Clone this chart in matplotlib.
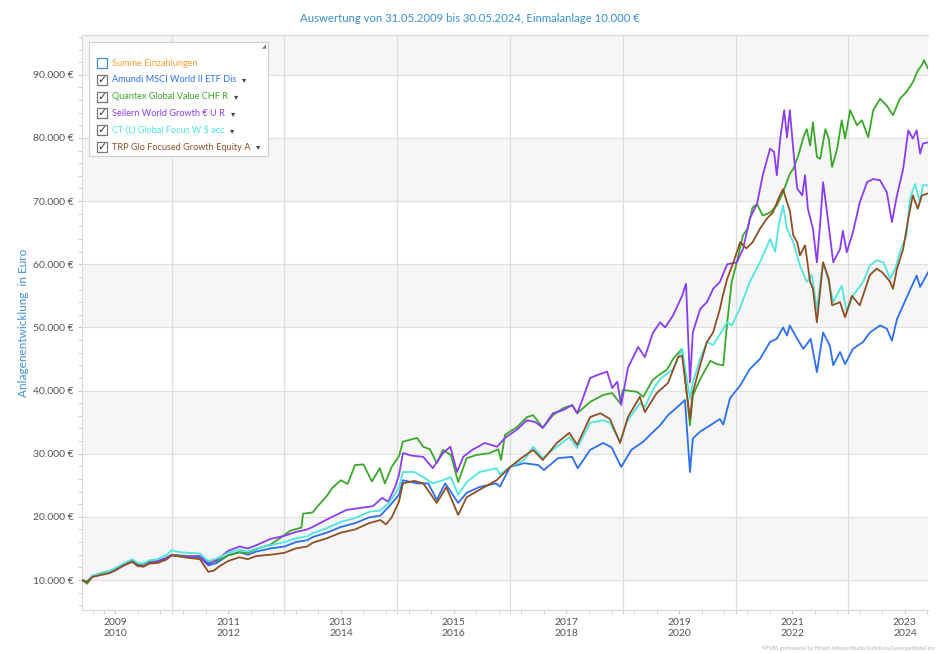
import numpy as np
import matplotlib
matplotlib.use('Agg')
import matplotlib.pyplot as plt
from matplotlib.patches import Rectangle
from matplotlib.ticker import FixedLocator, MultipleLocator, FuncFormatter

plt.rcParams['font.family'] = ['Lato', 'DejaVu Sans']

## values (time as decimal year, value in EUR)
amundi_t = [2009.41, 2009.5, 2009.6, 2009.75, 2009.9, 2010.0, 2010.15, 2010.3, 2010.4, 2010.5, 2010.6, 2010.75, 2010.9,
            2011.0, 2011.15, 2011.3, 2011.5, 2011.65, 2011.8, 2012.0, 2012.2, 2012.35, 2012.5, 2012.75, 2013.0, 2013.2,
            2013.4, 2013.5, 2013.75, 2014.0, 2014.25, 2014.5, 2014.7, 2014.85, 2015.03, 2015.1, 2015.35, 2015.55, 2015.7,
            2015.85, 2016.08, 2016.23, 2016.45, 2016.75, 2016.82, 2017.0, 2017.25, 2017.5, 2017.6, 2017.85, 2018.1, 2018.2,
            2018.42, 2018.65, 2018.8, 2018.97, 2019.15, 2019.36, 2019.53, 2019.66, 2019.8, 2019.98, 2020.1, 2020.19,
            2020.24, 2020.37, 2020.55, 2020.72, 2020.78, 2020.9, 2021.08, 2021.25, 2021.43, 2021.61, 2021.73, 2021.84,
            2021.91, 2021.96, 2022.09, 2022.2, 2022.33, 2022.44, 2022.55, 2022.67, 2022.73, 2022.85, 2022.94, 2023.08,
            2023.26, 2023.38, 2023.56, 2023.68, 2023.77, 2023.86, 2023.97, 2024.1, 2024.21, 2024.27, 2024.41]
amundi_v = [10000, 9700, 10700, 11000, 11300, 11700, 12400, 13000, 12300, 12300, 12800, 12900, 13400,
            14000, 13800, 13700, 13600, 12300, 12700, 13900, 14400, 14000, 14500, 15000, 15300, 16000,
            16300, 16800, 17500, 18400, 19000, 19900, 20200, 21600, 23500, 25800, 25300, 25300, 22700,
            25300, 22200, 23800, 24700, 25300, 24800, 27900, 28500, 28200, 27400, 29300, 29500, 27700,
            30600, 31700, 31000, 27900, 30600, 31900, 33400, 34500, 36100, 37500, 38500, 27100,
            32400, 33500, 34500, 35500, 34600, 38800, 40800, 43400, 45000, 47700, 48200, 50000,
            48700, 50300, 48200, 46600, 48200, 42900, 49200, 47100, 44000, 46100, 44200, 46600,
            47700, 49200, 50300, 49800, 47900, 51300, 53500, 56100, 58200, 56400, 58700]

quantex_t = [2009.41, 2009.5, 2009.6, 2009.75, 2009.9, 2010.0, 2010.15, 2010.3, 2010.4, 2010.5, 2010.6, 2010.75, 2010.9,
             2011.0, 2011.15, 2011.3, 2011.5, 2011.65, 2011.8, 2012.0, 2012.2, 2012.35, 2012.5, 2012.75, 2012.95, 2013.1,
             2013.3, 2013.33, 2013.5, 2013.6, 2013.75, 2013.85, 2014.0, 2014.12, 2014.25, 2014.4, 2014.55, 2014.69,
             2014.78, 2014.9, 2015.03, 2015.1, 2015.35, 2015.46, 2015.58, 2015.7, 2015.81, 2015.95, 2016.08, 2016.23,
             2016.41, 2016.64, 2016.79, 2016.84, 2016.91, 2017.12, 2017.3, 2017.41, 2017.58, 2017.76, 2017.94, 2018.1,
             2018.19, 2018.42, 2018.65, 2018.81, 2018.95, 2019.0, 2019.25, 2019.36, 2019.53, 2019.66, 2019.78, 2019.89,
             2020.05, 2020.19, 2020.24, 2020.37, 2020.55, 2020.66, 2020.78, 2020.85, 2020.93, 2021.02, 2021.13, 2021.21,
             2021.3, 2021.38, 2021.48, 2021.61, 2021.73, 2021.84, 2021.96, 2022.02, 2022.11, 2022.2, 2022.26, 2022.32,
             2022.37, 2022.44, 2022.5, 2022.59, 2022.65, 2022.71, 2022.8, 2022.88, 2022.94, 2023.03, 2023.15, 2023.24,
             2023.35, 2023.44, 2023.56, 2023.68, 2023.79, 2023.91, 2024.03, 2024.14, 2024.23, 2024.3, 2024.34, 2024.41]
quantex_v = [10000, 9400, 10600, 11100, 11400, 11800, 12500, 13100, 12500, 12400, 12900, 13000, 13400,
             14000, 13900, 13800, 13700, 12700, 13000, 13900, 14400, 14300, 14900, 15600, 16800, 17800,
             18300, 20500, 20700, 21800, 23300, 24600, 25800, 25200, 28200, 28300, 25600, 27700,
             25300, 27900, 29600, 31900, 32500, 31100, 30700, 28500, 30600, 29800, 25500, 29300,
             29800, 30100, 30700, 29000, 33000, 34200, 35800, 36100, 34100, 36100, 37200, 37700,
             36400, 38200, 39300, 39600, 38000, 40100, 39800, 39000, 41700, 42600, 43300, 45000,
             46600, 34500, 39200, 41800, 44700, 44200, 44000, 50800, 57200, 60300, 64600, 65600,
             69000, 69500, 67700, 68200, 69300, 71400, 74300, 75100, 77200, 80100, 81400, 78800,
             82500, 77000, 76700, 81400, 79900, 75400, 78300, 82800, 79900, 84400, 82000, 82800,
             80100, 84400, 86200, 85100, 83600, 86200, 87300, 88800, 90700, 91500, 92300, 91000]

seilern_t = [2009.41, 2009.5, 2009.6, 2009.75, 2009.9, 2010.0, 2010.15, 2010.3, 2010.4, 2010.5, 2010.6, 2010.75, 2010.9,
             2011.0, 2011.15, 2011.3, 2011.5, 2011.65, 2011.8, 2012.0, 2012.2, 2012.35, 2012.5, 2012.75, 2013.0, 2013.2,
             2013.4, 2013.5, 2013.8, 2014.1, 2014.34, 2014.57, 2014.73, 2014.84, 2014.96, 2015.03, 2015.1, 2015.25,
             2015.46, 2015.63, 2015.81, 2015.94, 2016.06, 2016.17, 2016.33, 2016.55, 2016.77, 2016.91, 2017.12, 2017.3,
             2017.45, 2017.58, 2017.76, 2017.94, 2018.1, 2018.19, 2018.28, 2018.42, 2018.56, 2018.72, 2018.81, 2018.9,
             2018.97, 2019.09, 2019.27, 2019.39, 2019.53, 2019.66, 2019.75, 2019.89, 2020.05, 2020.12, 2020.19, 2020.24,
             2020.37, 2020.49, 2020.6, 2020.72, 2020.85, 2021.02, 2021.13, 2021.25, 2021.38, 2021.48, 2021.61, 2021.68,
             2021.73, 2021.79, 2021.86, 2021.91, 2021.96, 2022.02, 2022.09, 2022.18, 2022.23, 2022.28, 2022.37, 2022.44,
             2022.5, 2022.55, 2022.62, 2022.67, 2022.73, 2022.85, 2022.9, 2022.97, 2023.08, 2023.2, 2023.33, 2023.44,
             2023.56, 2023.68, 2023.77, 2023.86, 2023.97, 2024.06, 2024.14, 2024.21, 2024.27, 2024.32, 2024.41]
seilern_v = [10000, 9700, 10600, 10900, 11200, 11600, 12300, 12900, 12300, 12200, 12700, 13000, 13500,
             13900, 13800, 13700, 13800, 12500, 13200, 14600, 15300, 15000, 15500, 16500, 17000, 17600,
             18000, 18400, 19800, 21100, 21400, 21700, 23000, 22400, 24700, 26600, 30100, 29700,
             29500, 27700, 30100, 31100, 27100, 29500, 30600, 31700, 31100, 32500, 33800, 35300,
             35000, 34100, 36400, 36900, 37700, 36400, 38500, 42000, 42500, 43000, 40400, 41400,
             37700, 43600, 46900, 45300, 49100, 50800, 50000, 51900, 55000, 56900, 41300, 49200,
             52900, 54000, 56100, 57200, 60000, 60300, 62400, 67200, 69600, 74100, 78300, 77800,
             74100, 79900, 84400, 80100, 84400, 78300, 72000, 70900, 74100, 68800, 65600, 60300,
             66700, 73000, 68200, 64600, 60300, 62400, 65300, 61900, 65100, 69800, 73000, 73500,
             73300, 71400, 66700, 70900, 75100, 81200, 79900, 81200, 77500, 79100, 79300]

ct_t = [2009.41, 2009.5, 2009.6, 2009.75, 2009.9, 2010.0, 2010.15, 2010.3, 2010.4, 2010.5, 2010.6, 2010.75, 2010.9,
        2011.0, 2011.15, 2011.3, 2011.5, 2011.65, 2011.8, 2012.0, 2012.2, 2012.35, 2012.5, 2012.75, 2013.0, 2013.2,
        2013.4, 2013.5, 2013.75, 2014.0, 2014.25, 2014.5, 2014.7, 2014.85, 2015.03, 2015.1, 2015.3, 2015.46, 2015.63,
        2015.81, 2015.95, 2016.08, 2016.23, 2016.46, 2016.76, 2016.82, 2017.0, 2017.25, 2017.41, 2017.58, 2017.83,
        2018.05, 2018.19, 2018.42, 2018.65, 2018.77, 2018.95, 2019.07, 2019.3, 2019.39, 2019.53, 2019.66, 2019.89,
        2020.05, 2020.19, 2020.24, 2020.37, 2020.49, 2020.6, 2020.72, 2020.85, 2020.93, 2021.07, 2021.25, 2021.43,
        2021.61, 2021.7, 2021.76, 2021.84, 2021.91, 2022.02, 2022.14, 2022.26, 2022.35, 2022.44, 2022.55, 2022.65,
        2022.73, 2022.88, 2022.97, 2023.08, 2023.26, 2023.38, 2023.5, 2023.62, 2023.74, 2023.83, 2023.91, 2024.03,
        2024.09, 2024.18, 2024.27, 2024.32, 2024.41]
ct_v = [10000, 9800, 10700, 11000, 11400, 11900, 12600, 13300, 12700, 12600, 13100, 13300, 13900,
        14700, 14400, 14300, 14200, 13000, 13400, 14300, 14800, 14500, 15000, 15500, 16000, 16600,
        16900, 17400, 18200, 19200, 19800, 20800, 21000, 22200, 24600, 27100, 27100, 26300, 25300,
        25800, 26300, 23500, 25500, 27100, 27700, 26700, 27900, 29000, 31100, 29300, 31100,
        32600, 30900, 34900, 35300, 34900, 31900, 35000, 38000, 37400, 40100, 41800, 43400,
        46600, 38700, 41300, 45000, 47700, 47200, 48900, 50800, 50300, 52900, 57200, 60300,
        64000, 62000, 66100, 69300, 65600, 63500, 59800, 57200, 58300, 52900, 60300, 57200,
        54000, 56600, 52400, 55000, 57200, 59800, 60600, 60300, 57700, 59300, 61900, 64600,
        70400, 72700, 69800, 72500, 72500]

trp_t = [2009.41, 2009.5, 2009.6, 2009.75, 2009.9, 2010.0, 2010.15, 2010.3, 2010.4, 2010.5, 2010.6, 2010.75, 2010.9,
         2011.0, 2011.15, 2011.3, 2011.5, 2011.65, 2011.75, 2011.85, 2012.0, 2012.2, 2012.35, 2012.5, 2012.75, 2013.0,
         2013.2, 2013.4, 2013.5, 2013.75, 2014.0, 2014.25, 2014.5, 2014.7, 2014.8, 2014.9, 2015.03, 2015.1, 2015.3,
         2015.46, 2015.7, 2015.87, 2016.08, 2016.23, 2016.46, 2016.76, 2017.0, 2017.23, 2017.41, 2017.58, 2017.83,
         2018.05, 2018.19, 2018.42, 2018.6, 2018.77, 2018.95, 2019.09, 2019.3, 2019.39, 2019.6, 2019.8, 2019.98,
         2020.05, 2020.19, 2020.24, 2020.37, 2020.49, 2020.6, 2020.72, 2020.77, 2020.85, 2020.96, 2021.08, 2021.19,
         2021.3, 2021.43, 2021.55, 2021.66, 2021.76, 2021.84, 2021.91, 2021.96, 2022.02, 2022.09, 2022.14, 2022.23,
         2022.32, 2022.37, 2022.44, 2022.55, 2022.65, 2022.71, 2022.85, 2022.94, 2023.06, 2023.2, 2023.38, 2023.5,
         2023.6, 2023.74, 2023.79, 2023.86, 2023.97, 2024.06, 2024.14, 2024.23, 2024.3, 2024.41]
trp_v = [10000, 9700, 10500, 10800, 11100, 11500, 12300, 12900, 12200, 12100, 12600, 12700, 13200,
         13900, 13700, 13500, 13300, 11300, 11500, 12200, 13000, 13600, 13300, 13800, 14000, 14300,
         15000, 15300, 15900, 16600, 17500, 18000, 19000, 19500, 18800, 19900, 22400, 25300, 25700,
         25300, 22200, 24700, 20300, 23100, 24300, 25800, 27900, 29500, 30600, 29000, 31700,
         33300, 31400, 35800, 36400, 35500, 31700, 35800, 39000, 36600, 39600, 41200, 45300,
         45500, 35500, 39700, 44000, 47700, 49200, 52900, 55000, 57700, 60300, 63500, 62500,
         63500, 65600, 67200, 68200, 70400, 71900, 69800, 68500, 64600, 63500, 61400, 63000,
         57200, 56100, 50800, 60300, 57700, 53500, 54000, 51600, 55000, 53500, 58300, 59300,
         58700, 57200, 56100, 59300, 62400, 67200, 70900, 68800, 70900, 71200]

legend_labels = ['Summe Einzahlungen', 'Amundi MSCI World II ETF Dis', 'Quantex Global Value CHF R',
                 'Seilern World Growth € U R', 'CT (L) Global Focus W $ acc', 'TRP Glo Focused Growth Equity A']
legend_colors = ['#f5a333', '#2b6ff2', '#3aa82a', '#8a3cf5', '#4fe6df', '#8f4f24']

year_labels = ['2009\n2010', '2011\n2012', '2013\n2014', '2015\n2016', '2017\n2018',
               '2019\n2020', '2021\n2022', '2023\n2024']

W, H = 940, 653
fig = plt.figure(figsize=(9.4, 6.53), dpi=100)
ax = fig.add_axes([82 / W, 1 - 610 / H, 846 / W, 575 / H])

x0, x1 = 2009.41, 2024.41
y0, y1 = 5250, 96300
ax.set_xlim(x0, x1)
ax.set_ylim(y0, y1)

## alternating bands
for lo in [10000, 30000, 50000, 70000, 90000]:
    ax.axhspan(lo, lo + 20000 if lo == 90000 else lo + 10000, color='#f6f6f6', zorder=0, lw=0)
for yv in range(10000, 100000, 10000):
    ax.axhline(yv, color='#e0e0e0', lw=0.9, zorder=1)
for xv in range(2011, 2025, 2):
    ax.axvline(xv, color='#dcdcdc', lw=0.9, zorder=1)

series = [(amundi_t, amundi_v), (quantex_t, quantex_v), (seilern_t, seilern_v), (ct_t, ct_v), (trp_t, trp_v)]
for (tt, vv), col in zip(series, legend_colors[1:]):
    ax.plot(tt, vv, color=col, lw=1.3, zorder=3)

## axes styling
ax.spines['right'].set_visible(False)
for s in ['left', 'bottom', 'top']:
    ax.spines[s].set_color('#d8d8d8')
ax.set_facecolor('white')

ax.yaxis.set_major_locator(FixedLocator(list(range(10000, 100000, 10000))))
ax.yaxis.set_minor_locator(MultipleLocator(2000))
ax.yaxis.set_major_formatter(FuncFormatter(lambda v, p: '{:,.0f} €'.format(v).replace(',', '.')))
ax.tick_params(axis='y', which='both', length=3, color='#c8c8c8', labelsize=7.5, labelcolor='#555555', pad=3)

ax.set_xticks([2010 + 2 * k for k in range(8)])
ax.set_xticklabels(year_labels, linespacing=1.25)
ax.xaxis.set_minor_locator(FixedLocator([2009.6, 2009.8] + [2010 + 0.4 * k for k in range(37)]
                                        + list(range(2011, 2025, 2))))
ax.tick_params(axis='x', which='both', length=3, color='#c8c8c8', labelsize=7.5, labelcolor='#555555', pad=3)

ax.set_ylabel('Anlagenentwicklung  in Euro', color='#3d8fd8', fontsize=8.5, labelpad=3)
fig.text(0.5, 1 - 18 / H, 'Auswertung von 31.05.2009 bis 30.05.2024, Einmalanlage 10.000 €',
         ha='center', va='center', color='#3a8fd0', fontsize=8.2)
fig.text(1 - 5 / W, 1 - 648 / H, '©FVBS professional by Edisoft AdvisorsStudio.StaticData.DeveloperDataCore',
         ha='right', va='center', color='#b0b0b0', fontsize=3.6)

## legend box with checkboxes
def fx(px):
    return px / W

def fy(py):
    return 1 - py / H

fig.patches.append(Rectangle((fx(89), fy(156)), fx(268) - fx(89), fy(42) - fy(156),
                             transform=fig.transFigure, facecolor='white', edgecolor='#d0d0d0', lw=0.8, zorder=5))
fig.text(fx(264), fy(47), '◢', color='#777777', fontsize=4, ha='center', va='center',
         family=['DejaVu Sans'], zorder=6)
for i, (lab, col) in enumerate(zip(legend_labels, legend_colors)):
    yy = 63 + i * 16.8
    box_col = '#3d8fd8' if i == 0 else '#777777'
    fig.patches.append(Rectangle((fx(97), fy(yy + 5)), fx(107) - fx(97), fy(yy - 5) - fy(yy + 5),
                                 transform=fig.transFigure, facecolor='white', edgecolor=box_col,
                                 lw=0.9, zorder=6))
    if i > 0:
        fig.text(fx(102), fy(yy), '✓', color='#333333', fontsize=8, ha='center', va='center',
                 family=['DejaVu Sans'], fontweight='bold', zorder=7)
    t = fig.text(fx(112), fy(yy), lab, color=col, fontsize=6.6, ha='left', va='center', zorder=7)
    if i > 0:
        fig.canvas.draw()
        bb = t.get_window_extent()
        fig.text((bb.x1 + 8) / W, fy(yy), '▾', color='#444444', fontsize=6, ha='center', va='center',
                 family=['DejaVu Sans'], zorder=7)

fig.savefig('out.png', dpi=100)
